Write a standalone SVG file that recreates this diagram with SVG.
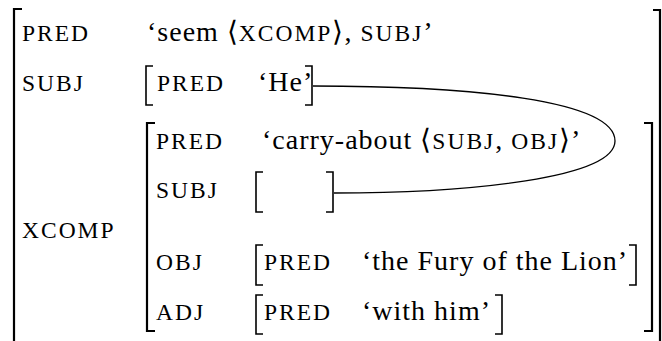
<svg xmlns="http://www.w3.org/2000/svg" width="662" height="341" viewBox="0 0 662 341">
  <style>
    text, tspan { font-family: "Liberation Serif", "Times New Roman", serif; fill: #000; }
    .rm { font-family: "Liberation Serif", "Times New Roman", serif; font-size: 28px; letter-spacing: 1px; }
    .sc { font-family: "Liberation Serif", "Times New Roman", serif; font-size: 23.5px; letter-spacing: 2px; }
    .br { fill: none; stroke: #000; stroke-width: 1.6; }
    .bigbr { fill: none; stroke: #000; stroke-width: 2.2; }
    .link { fill: none; stroke: #000; stroke-width: 1.3; }
  </style>
  <rect width="662" height="341" fill="#fff"/>

  <!-- outer f-structure -->
  <g id="f-outer">
    <path class="bigbr" d="M22 9 H14 V345"/>
    <path class="bigbr" d="M653 10 H660 V345"/>
    <text class="sc" x="22" y="41">PRED</text>
    <text class="rm" x="147" y="41">‘seem ⟨<tspan class="sc">XCOMP</tspan>⟩, <tspan class="sc">SUBJ</tspan>’</text>
    <text class="sc" x="22" y="91">SUBJ</text>
    <text class="sc" x="22" y="238">XCOMP</text>
  </g>

  <!-- subject: [PRED 'He'] -->
  <g id="f-subj">
    <path class="br" d="M153 66 H146 V105 H153"/>
    <path class="br" d="M305 66 H312 V105 H305"/>
    <text class="sc" x="157" y="91">PRED</text>
    <text class="rm" x="258" y="91">‘He’</text>
  </g>

  <!-- xcomp f-structure -->
  <g id="f-xcomp">
    <path class="bigbr" d="M155 123 H147 V331 H155"/>
    <path class="bigbr" d="M644 123 H652 V331 H644"/>
    <text class="sc" x="156" y="149">PRED</text>
    <text class="rm" x="262" y="149">‘carry-about ⟨<tspan class="sc">SUBJ</tspan>, <tspan class="sc">OBJ</tspan>⟩’</text>
    <text class="sc" x="156" y="198">SUBJ</text>
    <text class="sc" x="156" y="270">OBJ</text>
    <text class="sc" x="156" y="320">ADJ</text>
  </g>

  <!-- shared (empty) subject of xcomp -->
  <g id="f-xsubj">
    <path class="br" d="M263 172 H256 V212 H263"/>
    <path class="br" d="M326 172 H333 V212 H326"/>
  </g>

  <!-- object -->
  <g id="f-obj">
    <path class="br" d="M263 245 H256 V285 H263"/>
    <path class="br" d="M629 245 H636 V285 H629"/>
    <text class="sc" x="264" y="270">PRED</text>
    <text class="rm" x="362" y="270">‘the Fury of the Lion’</text>
  </g>

  <!-- adjunct -->
  <g id="f-adj">
    <path class="br" d="M263 295 H256 V334 H263"/>
    <path class="br" d="M495 295 H502 V334 H495"/>
    <text class="sc" x="264" y="320">PRED</text>
    <text class="rm" x="362" y="320">‘with him’</text>
  </g>

  <!-- structure-sharing line -->
  <g id="connectors">
    <path class="link" d="M313 86 C470 86 615 100 615 141 C615 178 470 193 334 193"/>
  </g>
</svg>
